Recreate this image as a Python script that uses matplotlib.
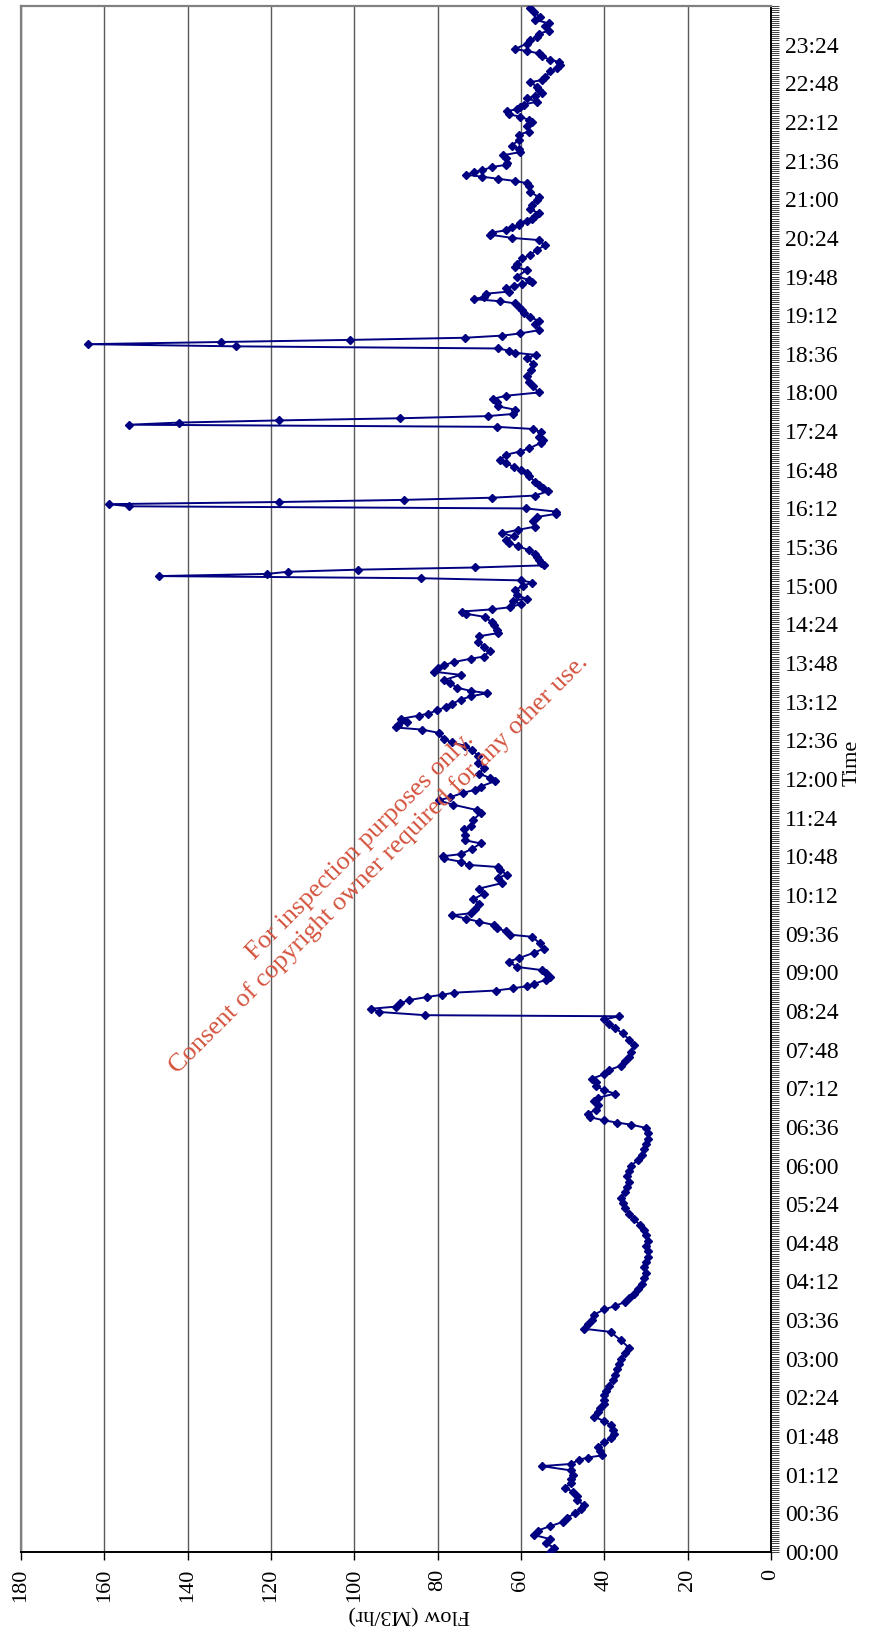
import matplotlib
matplotlib.use('Agg')
from matplotlib import pyplot as plt
from matplotlib.ticker import MultipleLocator

plt.rcParams['font.family'] = ['Liberation Serif', 'DejaVu Serif']

# minutes after midnight
minutes = [
    0, 4, 8, 12, 16, 20, 24, 28, 32, 36, 40, 44, 48, 52, 56, 60, 64, 68, 72, 76,
    80, 82, 86, 88, 90, 94, 98, 102, 106, 110, 114, 118, 122, 126, 130, 134, 138, 142, 146, 150,
    155, 160, 165, 170, 175, 180, 185, 190, 197, 205, 208, 212, 216, 221, 226, 229, 233, 237, 240, 245,
    250, 255, 260, 265, 270, 275, 280, 285, 290, 295, 300, 305, 310, 315, 320, 325, 330, 335, 340, 345,
    350, 355, 360, 365, 370, 375, 380, 385, 390, 395, 398, 400, 402, 405, 408, 412, 416, 420, 423, 427,
    430, 434, 438, 441, 445, 449, 453, 457, 461, 466, 472, 477, 483, 488, 492, 496, 499, 500, 503, 506,
    508, 511, 514, 517, 519, 521, 523, 525, 527, 529, 533, 536, 539, 542, 545, 550, 553, 558, 562, 567,
    573, 575, 578, 581, 584, 587, 590, 593, 595, 599, 604, 608, 613, 618, 623, 628, 631, 635, 638, 640,
    643, 646, 648, 650, 655, 660, 663, 668, 673, 676, 682, 688, 691, 696, 700, 703, 707, 710, 713, 718,
    721, 725, 730, 735, 741, 747, 751, 754, 757, 763, 766, 768, 770, 773, 776, 779, 781, 784, 787, 790,
    794, 797, 800, 802, 805, 809, 812, 817, 820, 823, 826, 829, 832, 834, 839, 843, 848, 853, 856, 859,
    863, 866, 871, 874, 876, 878, 880, 883, 886, 888, 891, 896, 900, 903, 905, 907, 909, 911, 913, 915,
    917, 919, 921, 924, 927, 930, 933, 937, 940, 943, 946, 949, 952, 955, 960, 964, 967, 969, 972, 974,
    976, 978, 980, 982, 984, 988, 991, 994, 997, 1002, 1005, 1008, 1011, 1014, 1017, 1022, 1025, 1028, 1033, 1036,
    1039, 1043, 1046, 1048, 1050, 1052, 1054, 1056, 1058, 1060, 1064, 1067, 1071, 1074, 1077, 1080, 1086, 1090, 1095, 1101,
    1107, 1112, 1115, 1117, 1119, 1121, 1123, 1125, 1127, 1129, 1131, 1133, 1135, 1138, 1144, 1147, 1150, 1154, 1157, 1160,
    1163, 1165, 1167, 1169, 1172, 1174, 1177, 1179, 1181, 1183, 1185, 1188, 1194, 1197, 1200, 1205, 1208, 1213, 1217, 1222,
    1224, 1227, 1229, 1231, 1234, 1236, 1238, 1240, 1242, 1244, 1247, 1251, 1255, 1259, 1262, 1267, 1272, 1275, 1277, 1279,
    1281, 1283, 1285, 1287, 1290, 1292, 1294, 1298, 1301, 1304, 1307, 1310, 1315, 1320, 1323, 1328, 1332, 1334, 1337, 1339,
    1342, 1344, 1346, 1348, 1351, 1354, 1356, 1359, 1362, 1365, 1369, 1371, 1374, 1379, 1382, 1385, 1388, 1390, 1393, 1396,
    1398, 1400, 1405, 1408, 1411, 1414, 1417, 1421, 1424, 1427, 1430, 1434, 1438,
]

# flow in M3/hr at each of those times
flow = [
    53, 52, 54, 53, 57, 56, 53, 50, 49, 47, 45.5, 45, 46.5, 46.5, 47.5, 49.5, 48, 48, 47.5, 48,
    55, 48, 46, 44, 40.5, 41, 41.5, 40, 38.5, 37.8, 38, 38.5, 40, 42.5, 41.5, 41, 40, 40, 40, 39.5,
    39, 38, 37.5, 37, 36.5, 36, 35, 34, 36, 38.5, 45, 44, 43, 42.5, 40, 37.5, 35, 34, 33, 32,
    31, 30.5, 30, 30.5, 30, 29.5, 29.5, 30, 29.5, 30, 30.5, 31.5, 33, 34, 35, 35.5, 36, 35, 34.5, 34,
    34.5, 34, 33.5, 32, 31, 30.5, 30, 29.5, 29.5, 30, 33.5, 37, 40, 43.5, 44, 42, 41.5, 42.5, 41.5, 37.5,
    40, 42, 42, 43, 40, 38.8, 36, 35, 34, 33.5, 33, 34, 35.6, 37.5, 39, 40, 36.5, 83, 94, 96,
    90, 89, 87, 82.5, 79, 76, 66, 62, 58.6, 57, 54, 53, 54, 55, 61, 63, 60.6, 57, 54.6, 55.5,
    57.3, 62.6, 63.5, 65.7, 66.5, 70, 73.3, 76.5, 72, 71, 70, 71.5, 69, 70, 64.6, 65.5, 63.4, 65, 65.4, 72.6,
    74.5, 78.6, 78.8, 74.5, 71.7, 69.7, 73.5, 73.5, 73.8, 72, 71.5, 69.7, 70.5, 76.2, 79.8, 77, 74, 71, 69.7, 66.2,
    67.5, 70, 69, 70.2, 70.2, 71.7, 73.5, 76.5, 78.5, 79.8, 83.7, 90.1, 89.5, 87.3, 88.9, 84.6, 82.2, 80.1, 78.1, 76.5,
    74.5, 72, 68.1, 72, 75.3, 77, 78.6, 74.5, 81, 80, 78.6, 76, 72.1, 69, 67.5, 69, 70.2, 70, 65.4, 65.8,
    66.5, 67, 68.7, 73.3, 74.1, 67, 62.6, 60, 62, 58.6, 61, 61.5, 59.5, 57.4, 60, 84, 147, 121, 116, 99,
    71, 54.6, 55.3, 55.8, 56.2, 56.7, 58, 60.8, 63, 63.6, 61.8, 64.5, 60.8, 56.7, 57.1, 56.2, 51.6, 51.5, 58.7, 154,
    159, 118, 88, 67, 56.7, 53.5, 54.8, 55.8, 56.7, 58, 58.5, 59.9, 61.8, 63.6, 65, 63.6, 60.3, 58, 55.3, 54.8,
    55.8, 55.3, 57.1, 65.7, 154, 142, 118, 89, 68, 62, 61.4, 65.4, 65.8, 66.8, 63.6, 55.8, 57.1, 58, 58.5, 57.6,
    57.1, 58.5, 56.4, 61.4, 63, 65.4, 128.5, 164, 132, 101, 73.4, 64.5, 60.2, 55.8, 56.6, 55.8, 57.8, 59.4, 59.8, 60.6,
    61.4, 65, 71.3, 68.9, 68.5, 62.9, 63.7, 61.8, 59.8, 57.4, 58.2, 61, 58.6, 61.4, 61, 59.8, 57.8, 56.2, 54.2, 55.8,
    62.2, 67.4, 67, 63.7, 62.2, 60.6, 60.2, 58.6, 57.4, 56.6, 55.8, 57.8, 57.4, 56.2, 55.8, 57.8, 58.2, 58.6, 61.4, 65.4,
    69.3, 73.3, 71.3, 69.3, 67, 63.7, 63.3, 63.7, 64.2, 60.2, 60.6, 62.2, 60.6, 60.6, 58.2, 58.6, 57.4, 58.2, 60.2, 62.9,
    63.3, 61, 60.2, 59.4, 56.2, 58.6, 56.6, 55, 55.8, 56.2, 57.8, 55, 54.2, 53, 51.4, 50.6, 51, 53, 55, 55.8,
    58.6, 61.4, 58.6, 57.8, 56.2, 55.8, 53.4, 54.2, 53.4, 56.6, 55.4, 57, 57.8,
]

time_ticks = [0, 36, 72, 108, 144, 180, 216, 252, 288, 324, 360, 396, 432, 468, 504,
              540, 576, 612, 648, 684, 720, 756, 792, 828, 864, 900, 936, 972, 1008,
              1044, 1080, 1116, 1152, 1188, 1224, 1260, 1296, 1332, 1368, 1404]
time_labels = ['00:00', '00:36', '01:12', '01:48', '02:24', '03:00', '03:36', '04:12',
               '04:48', '05:24', '06:00', '06:36', '07:12', '07:48', '08:24', '09:00',
               '09:36', '10:12', '10:48', '11:24', '12:00', '12:36', '13:12', '13:48',
               '14:24', '15:00', '15:36', '16:12', '16:48', '17:24', '18:00', '18:36',
               '19:12', '19:48', '20:24', '21:00', '21:36', '22:12', '22:48', '23:24']
flow_ticks = [0, 20, 40, 60, 80, 100, 120, 140, 160, 180]

W, H = 869, 1644
fig = plt.figure(figsize=(W / 100, H / 100), dpi=100)
ax = fig.add_axes([21 / W, 92 / H, 750 / W, 1546 / H])

ax.plot(flow, minutes, color='#000080', lw=1.4, marker='D', ms=3.6,
        mec='#000080', mfc='#000080', zorder=3)

ax.set_xlim(180, 0)
ax.set_ylim(0, 1440)

ax.set_xticks(flow_ticks)
ax.set_xticklabels([str(v) for v in flow_ticks], rotation=90)
ax.grid(axis='x', color='#5a5a5a', lw=1.0)

ax.yaxis.tick_right()
ax.set_yticks(time_ticks)
ax.set_yticklabels(time_labels)
ax.yaxis.set_minor_locator(MultipleLocator(2))

ax.tick_params(axis='y', which='both', direction='out', length=6, width=0.6,
               color='#222222', labelsize=17, pad=4)
ax.tick_params(axis='x', direction='out', length=6, width=1.0, color='black',
               labelsize=16, pad=6)

for side in ['top', 'left']:
    ax.spines[side].set_color('#808080')
    ax.spines[side].set_linewidth(1.6)
for side in ['right', 'bottom']:
    ax.spines[side].set_color('black')
    ax.spines[side].set_linewidth(1.4)

fig.text(409 / W, 1 - 1614 / H, 'Flow (M3/hr)', rotation=180, ha='center',
         va='center', fontsize=16)
fig.text(852 / W, 1 - 763 / H, 'Time', rotation=90, ha='center', va='center',
         fontsize=16)

# watermark
fig.text(370 / W, 1 - 855 / H,
         'For inspection purposes only.\nConsent of copyright owner required for any other use.',
         rotation=45, rotation_mode='anchor', ha='center', va='center',
         multialignment='center', color='#d4533e', fontsize=19, zorder=5)

fig.savefig('out.png', dpi=100)
